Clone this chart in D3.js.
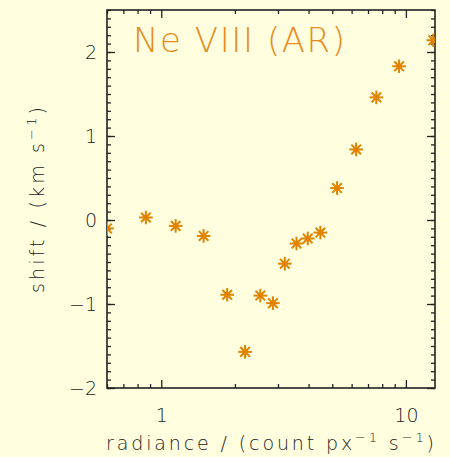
<html>
<head>
  <title>Ne VIII shift vs radiance</title>
  <script src="https://d3js.org/d3.v7.min.js"></script>
  <style>
  body { margin: 0; background: #ffffe0; }
  text { font-family: "DejaVu Sans", sans-serif; font-weight: 200; fill: #1a1a1a; }
  </style>
</head>
<body>
  <script>

var radiance = [0.6, 0.865, 1.145, 1.49, 1.86, 2.2, 2.54, 2.86, 3.2, 3.57, 3.97, 4.47, 5.23, 6.26, 7.57, 9.38, 12.95];
var shift    = [-0.10, 0.03, -0.07, -0.19, -0.89, -1.57, -0.90, -0.99, -0.52, -0.28, -0.22, -0.15, 0.38, 0.84, 1.46, 1.83, 2.14];

var xDomain = [0.6, 13.15];
var yDomain = [-2, 2.5];
var xMajor = [1, 10];
var xMinor = [0.6, 0.7, 0.8, 0.9, 2, 3, 4, 5, 6, 7, 8, 9];
var yMajor = [-2, -1, 0, 1, 2];
var yMinor = d3.range(-20, 26).map(function(d) { return d / 10; });

var width = 450,
    height = 457;
var pLeft = 107, pRight = 435, pTop = 10, pBottom = 388;

var svg = d3.select('body')
  .append('svg')
  .attr('width', width)
  .attr('height', height);

svg.append('rect')
  .attr('width', width)
  .attr('height', height)
  .attr('fill', '#ffffe0');

var x = d3.scaleLog().domain(xDomain).range([pLeft, pRight]);
var y = d3.scaleLinear().domain(yDomain).range([pBottom, pTop]);

function styleAxis(g) {
  g.select('.domain').remove();
  g.selectAll('line').attr('stroke', '#222').attr('stroke-width', 1.3);
  g.selectAll('text').attr('font-size', 19).style('fill', '#1a1a1a')
    .style('font-family', '"DejaVu Sans", sans-serif')
    .style('font-weight', 200);
}

// minor ticks, all four sides
svg.append('g').attr('transform', 'translate(0,' + pBottom + ')')
  .call(d3.axisBottom(x).tickValues(xMinor).tickSize(-4).tickFormat(''))
  .call(styleAxis);
svg.append('g').attr('transform', 'translate(0,' + pTop + ')')
  .call(d3.axisTop(x).tickValues(xMinor).tickSize(-4).tickFormat(''))
  .call(styleAxis);
svg.append('g').attr('transform', 'translate(' + pLeft + ',0)')
  .call(d3.axisLeft(y).tickValues(yMinor).tickSize(-4).tickFormat(''))
  .call(styleAxis);
svg.append('g').attr('transform', 'translate(' + pRight + ',0)')
  .call(d3.axisRight(y).tickValues(yMinor).tickSize(-4).tickFormat(''))
  .call(styleAxis);

// major ticks
svg.append('g').attr('transform', 'translate(0,' + pBottom + ')')
  .call(d3.axisBottom(x).tickValues(xMajor).tickSize(-8).tickPadding(21).tickFormat(d3.format('d')))
  .call(styleAxis);
svg.append('g').attr('transform', 'translate(0,' + pTop + ')')
  .call(d3.axisTop(x).tickValues(xMajor).tickSize(-8).tickFormat(''))
  .call(styleAxis);
svg.append('g').attr('transform', 'translate(' + pLeft + ',0)')
  .call(d3.axisLeft(y).tickValues(yMajor).tickSize(-8).tickPadding(10)
    .tickFormat(function(d) { return d < 0 ? '\u2212' + (-d) : d; }))
  .call(styleAxis);
svg.append('g').attr('transform', 'translate(' + pRight + ',0)')
  .call(d3.axisRight(y).tickValues(yMajor).tickSize(-8).tickFormat(''))
  .call(styleAxis);

// frame
svg.append('rect')
  .attr('x', pLeft).attr('y', pTop)
  .attr('width', pRight - pLeft).attr('height', pBottom - pTop)
  .attr('fill', 'none')
  .attr('stroke', '#222')
  .attr('stroke-width', 1.6);

svg.append('clipPath').attr('id', 'plotclip')
  .append('rect')
  .attr('x', pLeft).attr('y', pTop)
  .attr('width', pRight - pLeft).attr('height', pBottom - pTop);

// asterisk markers
var r = 6.8;
var arms = [0, 45, 90, 135];
var pts = svg.append('g').attr('clip-path', 'url(#plotclip)')
  .selectAll('g')
  .data(radiance)
  .enter()
  .append('g')
  .attr('transform', function(d, i) { return 'translate(' + x(d) + ',' + y(shift[i]) + ')'; });

arms.forEach(function(a) {
  var rad = a * Math.PI / 180;
  pts.append('line')
    .attr('x1', -r * Math.cos(rad)).attr('y1', -r * Math.sin(rad))
    .attr('x2', r * Math.cos(rad)).attr('y2', r * Math.sin(rad))
    .attr('stroke', '#e08400')
    .attr('stroke-width', 2);
});
pts.append('circle').attr('r', 2.8).attr('fill', '#e08400');

// title
svg.append('text')
  .attr('x', 133).attr('y', 52)
  .attr('font-size', 34)
  .attr('textLength', 212)
  .attr('lengthAdjust', 'spacing')
  .style('fill', '#e58c1c')
  .text('Ne VIII (AR)');

// x axis title
var xt = svg.append('text')
  .attr('x', 106).attr('y', 450)
  .attr('font-size', 19)
  .attr('textLength', 328)
  .attr('lengthAdjust', 'spacing');
xt.append('tspan').text('radiance / (count px');
xt.append('tspan').attr('dy', -8).attr('font-size', 13).text('\u22121');
xt.append('tspan').attr('dy', 8).text(' s');
xt.append('tspan').attr('dy', -8).attr('font-size', 13).text('\u22121');
xt.append('tspan').attr('dy', 8).text(')');

// y axis title
var yt = svg.append('text')
  .attr('transform', 'translate(44,293) rotate(-90)')
  .attr('font-size', 19)
  .attr('textLength', 186)
  .attr('lengthAdjust', 'spacing');
yt.append('tspan').text('shift / (km s');
yt.append('tspan').attr('dy', -8).attr('font-size', 13).text('\u22121');
yt.append('tspan').attr('dy', 8).text(')');

  </script>
</body>
</html>
